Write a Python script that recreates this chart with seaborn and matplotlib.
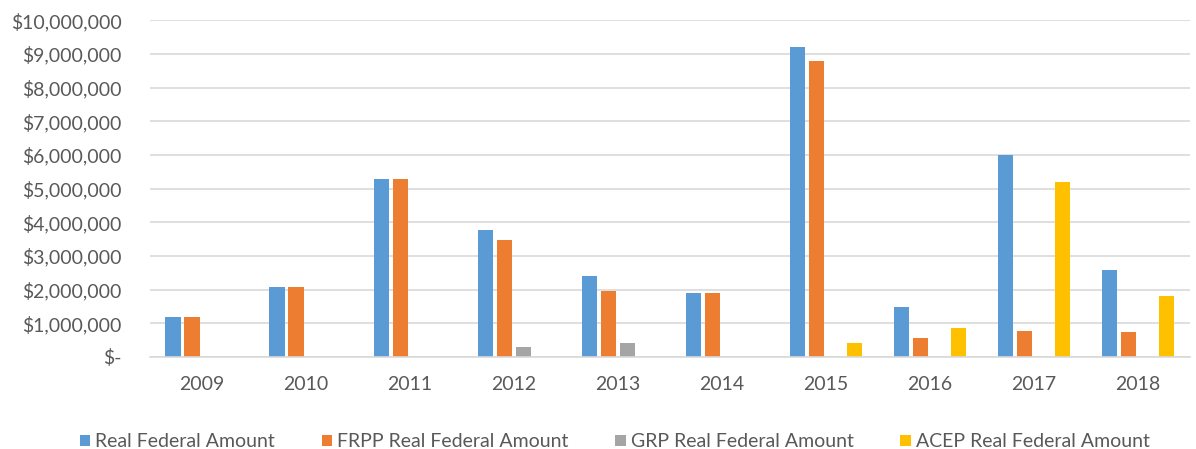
import matplotlib
matplotlib.use("Agg")
import matplotlib.pyplot as plt
import seaborn as sns
import pandas as pd
from matplotlib.ticker import FuncFormatter, MultipleLocator

years = ["2009", "2010", "2011", "2012", "2013", "2014", "2015", "2016", "2017", "2018"]
series_names = ["Real Federal Amount", "FRPP Real Federal Amount",
                "GRP Real Federal Amount", "ACEP Real Federal Amount"]
real_federal = [1200000, 2070000, 5280000, 3770000, 2400000, 1890000, 9210000, 1470000, 5990000, 2580000]
frpp_federal = [1200000, 2070000, 5280000, 3470000, 1970000, 1890000, 8780000, 570000, 780000, 750000]
grp_federal = [0, 0, 0, 300000, 400000, 0, 0, 0, 0, 0]
acep_federal = [0, 0, 0, 0, 0, 0, 410000, 870000, 5200000, 1810000]
colors = ["#5B9BD5", "#ED7D31", "#A5A5A5", "#FFC000"]

rows = []
for name, vals in zip(series_names, [real_federal, frpp_federal, grp_federal, acep_federal]):
    for y, v in zip(years, vals):
        rows.append({"Year": y, "Series": name, "Amount": v})
df = pd.DataFrame(rows)

sns.set_theme(style="white")
plt.rcParams["font.family"] = ["Lato", "DejaVu Sans"]

fig = plt.figure(figsize=(11.96, 4.49), dpi=100)
ax = fig.add_axes([0.125, 0.205, 0.87, 0.75])

sns.barplot(data=df, x="Year", y="Amount", hue="Series", hue_order=series_names,
            order=years, palette=colors, width=0.73, gap=0.2, ax=ax,
            saturation=1, legend=True, errorbar=None, linewidth=0)

ax.set_ylim(0, 10000000)
ax.yaxis.set_major_locator(MultipleLocator(1000000))

def fmt(v, pos):
    if abs(v) < 1:
        return "$-"
    return "${:,.0f}".format(v)

ax.yaxis.set_major_formatter(FuncFormatter(fmt))
ax.grid(axis="y", color="#D9D9D9", linewidth=1.2)
ax.set_axisbelow(True)
for s in ["top", "right", "left"]:
    ax.spines[s].set_visible(False)
ax.spines["bottom"].set_color("#D9D9D9")
ax.spines["bottom"].set_linewidth(1.2)
ax.tick_params(axis="both", length=0, labelsize=14, labelcolor="#595959")
ax.tick_params(axis="x", pad=14)
ax.tick_params(axis="y", pad=20)
ax.set_xlabel("")
ax.set_ylabel("")

handles, labels = ax.get_legend_handles_labels()
ax.legend(handles, labels, loc="upper center", bbox_to_anchor=(0.447, -0.175),
          ncol=4, frameon=False, fontsize=14, handlelength=0.55, handleheight=0.55,
          handletextpad=0.25, columnspacing=2.4, labelcolor="#595959")

fig.savefig("out.png", dpi=100)
